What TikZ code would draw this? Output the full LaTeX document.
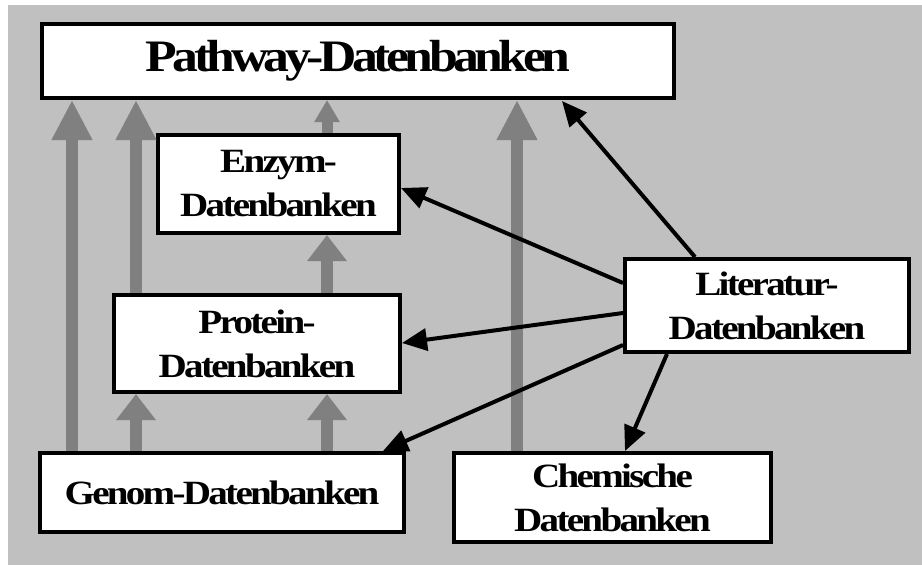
\documentclass[tikz,border=0pt]{standalone}
\usepackage{fontspec}
\setmainfont{Liberation Serif}
\newfontfamily\boxfont[FakeStretch=1.15,LetterSpace=-8]{Liberation Serif Bold}
\newfontfamily\titlefont[FakeStretch=1.15,LetterSpace=-10]{Liberation Serif Bold}
\usetikzlibrary{arrows.meta}
\definecolor{bggray}{RGB}{192,192,192}
\definecolor{arrgray}{RGB}{128,128,128}
\tikzset{
  dbbox/.style={draw=black, line width=4pt, fill=white, inner sep=0pt, align=center,
    font=\boxfont\fontsize{34}{44}\selectfont},
  garrow/.style={draw=arrgray, line width=12pt, -{Triangle[width=38pt,length=40pt]}},
  gshort/.style={draw=arrgray, line width=12pt, -{Triangle[width=38pt,length=26pt]}},
  gtiny/.style={draw=arrgray, line width=11pt, -{Triangle[width=24pt,length=22pt]}},
  barrow/.style={draw=black, line width=4pt, -{Triangle[width=22pt,length=25pt]}},
}
\begin{document}
\begin{tikzpicture}[x=1pt,y=-1pt]
\useasboundingbox (0,0) rectangle (922,565);
\fill[bggray] (8,5) rectangle (922,565);

% nodes
\node[dbbox, minimum width=632pt, minimum height=74pt, font=\titlefont\fontsize{45}{50}\selectfont] (path) at (358,61) {Pathway-Datenbanken};
\node[dbbox, minimum width=241pt, minimum height=98pt] (enz) at (278.5,184) {Enzym-\\Datenbanken};
\node[dbbox, minimum width=286pt, minimum height=97pt] (prot) at (257,343.5) {Protein-\\Datenbanken};
\node[dbbox, minimum width=364pt, minimum height=79pt] (gen) at (222,492.5) {Genom-Datenbanken};
\node[dbbox, minimum width=317pt, minimum height=89pt] (chem) at (612.5,497.5) {Chemische\\Datenbanken};
\node[dbbox, minimum width=284pt, minimum height=93pt] (lit) at (767,305.5) {Literatur-\\Datenbanken};

% gray arrows (x positions)
\coordinate (xa) at (72,0);
\coordinate (xb) at (136,0);
\coordinate (xc) at (327,0);
\coordinate (xd) at (517,0);
\draw[garrow] (gen.north -| xa) -- (path.south -| xa);
\draw[gshort] (gen.north -| xb) -- (prot.south -| xb);
\draw[garrow] (prot.north -| xb) -- (path.south -| xb);
\draw[gshort] (gen.north -| xc) -- (prot.south -| xc);
\draw[gshort] (prot.north -| xc) -- (enz.south -| xc);
\draw[gtiny] (enz.north -| xc) -- (path.south -| xc);
\draw[garrow] (chem.north -| xd) -- (path.south -| xd);

% black arrows from Literatur
\coordinate (l1) at (695,257);
\coordinate (t1) at (562,101);
\coordinate (l2) at (623,283);
\coordinate (t2) at (401,188);
\coordinate (l3) at (623,313);
\coordinate (t3) at (402,343);
\coordinate (l4) at (623,345);
\coordinate (t4) at (383,451);
\coordinate (l5) at (667,354);
\coordinate (t5) at (625,451);
\draw[barrow] (l1) -- (t1);
\draw[barrow] (l2) -- (t2);
\draw[barrow] (l3) -- (t3);
\draw[barrow] (l4) -- (t4);
\draw[barrow] (l5) -- (t5);
\end{tikzpicture}
\end{document}
